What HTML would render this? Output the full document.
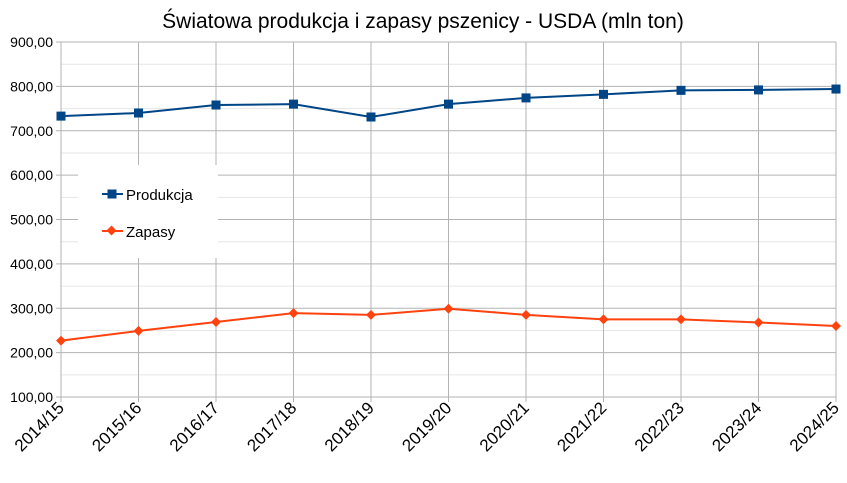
<!DOCTYPE html>
<html><head><meta charset="utf-8"><style>
body{margin:0;background:#fff;}
svg text{font-family:"Liberation Sans",sans-serif;}
</style></head><body>
<svg id="chart" width="847" height="478" xmlns="http://www.w3.org/2000/svg">
<text x="423" y="28" font-size="21" text-anchor="middle" fill="#000">Światowa produkcja i zapasy pszenicy - USDA (mln ton)</text>
<g id="grid"></g><g id="yaxis"></g><g id="xaxis"></g><g id="series"></g>
<g>
<rect x="78" y="165" width="140" height="93" fill="#fff"/>
<line x1="102" y1="194" x2="123" y2="194" stroke="#004586" stroke-width="2"/>
<rect x="107.5" y="189.5" width="9" height="9" fill="#004586"/>
<text x="126" y="200" font-size="15">Produkcja</text>
<line x1="102" y1="231" x2="123" y2="231" stroke="#ff420e" stroke-width="2"/>
<rect x="108" y="227" width="7" height="7" fill="#ff420e" transform="rotate(45 111.5 230.5)"/>
<text x="126" y="237" font-size="15">Zapasy</text>
</g>
</svg>
<script>
const categories=["2014/15","2015/16","2016/17","2017/18","2018/19","2019/20","2020/21","2021/22","2022/23","2023/24","2024/25"];
const produkcja=[733,740,758,760,731,760,774,782,791,792,794];
const zapasy=[227,249,269,289,285,299,285,275,275,268,260];
const yTicks=[100,200,300,400,500,600,700,800,900];
const tickLabels=["100,00","200,00","300,00","400,00","500,00","600,00","700,00","800,00","900,00"];
const NS="http://www.w3.org/2000/svg";
const X0=61,X1=836,Y0=397,Y1=42;
const x=i=>X0+(X1-X0)*i/(categories.length-1);
const y=v=>Y0-(v-100)/800*(Y0-Y1);
function mk(t,a,p){const e=document.createElementNS(NS,t);for(const k in a)e.setAttribute(k,a[k]);p.appendChild(e);return e;}
const grid=document.getElementById('grid'),ya=document.getElementById('yaxis'),xa=document.getElementById('xaxis'),ser=document.getElementById('series');
for(let v=150;v<900;v+=100){const l=mk('line',{x1:X0,x2:X1,y1:y(v),y2:y(v),stroke:'#e6e6e6','stroke-width':1},grid);

}
yTicks.forEach((v,i)=>{const l=mk('line',{x1:X0-5,x2:X1,y1:y(v),y2:y(v),stroke:'#b3b3b3','stroke-width':1},grid);


const t=mk('text',{x:X0-8,y:y(v)+5,'font-size':14,'text-anchor':'end',fill:'#000'},ya);t.textContent=tickLabels[i];

});
categories.forEach((c,i)=>{const l=mk('line',{x1:x(i),x2:x(i),y1:Y1,y2:Y0+5,stroke:'#b3b3b3','stroke-width':1},grid);


const t=mk('text',{x:x(i)+4,y:Y0+12,'font-size':17,'text-anchor':'end',fill:'#000',transform:`rotate(-45 ${x(i)+4} ${Y0+12})`},xa);t.textContent=c;

});
function draw(vals,col,shape,name){
const pl=mk('polyline',{points:vals.map((v,i)=>x(i)+','+y(v)).join(' '),fill:'none',stroke:col,'stroke-width':2},ser);


vals.forEach((v,i)=>{let m;
if(shape==='sq')m=mk('rect',{x:x(i)-4.5,y:y(v)-4.5,width:9,height:9,fill:col},ser);
else m=mk('rect',{x:x(i)-3.5,y:y(v)-3.5,width:7,height:7,fill:col,transform:`rotate(45 ${x(i)} ${y(v)})`},ser);

});}
draw(produkcja,'#004586','sq','produkcja');
draw(zapasy,'#ff420e','di','zapasy');
</script>
</body></html>
